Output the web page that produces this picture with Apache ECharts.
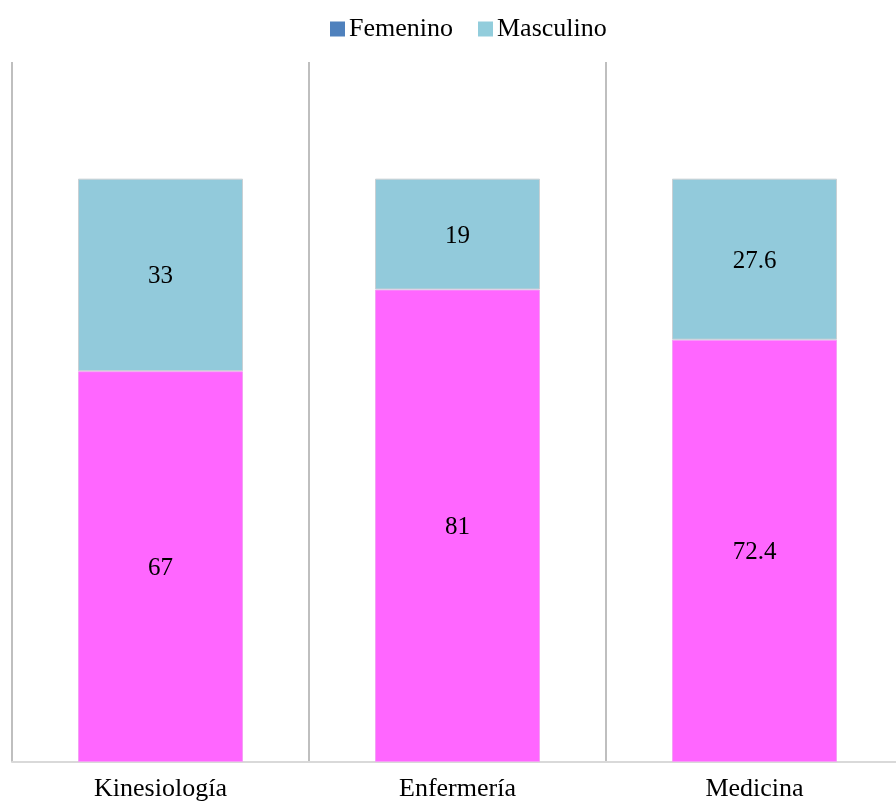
<!DOCTYPE html>
<html>
<head>
<meta charset="utf-8">
<script src="https://cdn.jsdelivr.net/npm/echarts@6/dist/echarts.min.js"></script>
<style>html,body{margin:0;padding:0;background:#fff;overflow:hidden}#c{width:903px;height:802px}</style>
</head>
<body>
<div id="c"></div>
<script>
const categories = ['Kinesiología', 'Enfermería', 'Medicina'];
const femenino = [67, 81, 72.4];
const masculino = [33, 19, 27.6];

const font = '"Liberation Serif", "Times New Roman", serif';
const chart = echarts.init(document.getElementById('c'));
chart.setOption({
  animation: false,
  textStyle: { fontFamily: font },
  legend: {
    top: 11,
    left: 325,
    itemWidth: 15,
    itemHeight: 15,
    itemGap: 25,
    textStyle: { fontFamily: font, fontSize: 26, color: '#000', padding: [0, 0, 0, -1] },
    data: [
      { name: 'Femenino', icon: 'rect', itemStyle: { color: '#4F81BD', borderWidth: 0 } },
      { name: 'Masculino', icon: 'rect', itemStyle: { color: '#92CDDC', borderWidth: 0 } }
    ]
  },
  grid: { left: 12, top: 62, right: 0, bottom: 40, containLabel: false },
  xAxis: {
    type: 'category',
    data: categories,
    axisLine: { show: true, lineStyle: { color: '#d9d9d9', width: 2 } },
    axisTick: { show: false },
    axisLabel: { fontFamily: font, fontSize: 26, color: '#000', margin: 14 },
    splitLine: { show: true, lineStyle: { color: '#bfbfbf', width: 2 } }
  },
  yAxis: {
    type: 'value',
    min: 0,
    max: 120,
    show: false,
    splitLine: { show: false }
  },
  series: [
    {
      name: 'Femenino',
      type: 'bar',
      stack: 'total',
      barWidth: 165,
      data: femenino,
      itemStyle: { color: '#FF66FF', borderColor: '#f4a0f4', borderWidth: 1 },
      label: { show: true, position: 'inside', fontFamily: font, fontSize: 25, color: '#000', offset: [0, 2] }
    },
    {
      name: 'Masculino',
      type: 'bar',
      stack: 'total',
      barWidth: 165,
      data: masculino,
      itemStyle: { color: '#92CADB', borderColor: '#c8d0d4', borderWidth: 1 },
      label: { show: true, position: 'inside', fontFamily: font, fontSize: 25, color: '#000', offset: [0, 2] }
    }
  ]
});
</script>
</body>
</html>
